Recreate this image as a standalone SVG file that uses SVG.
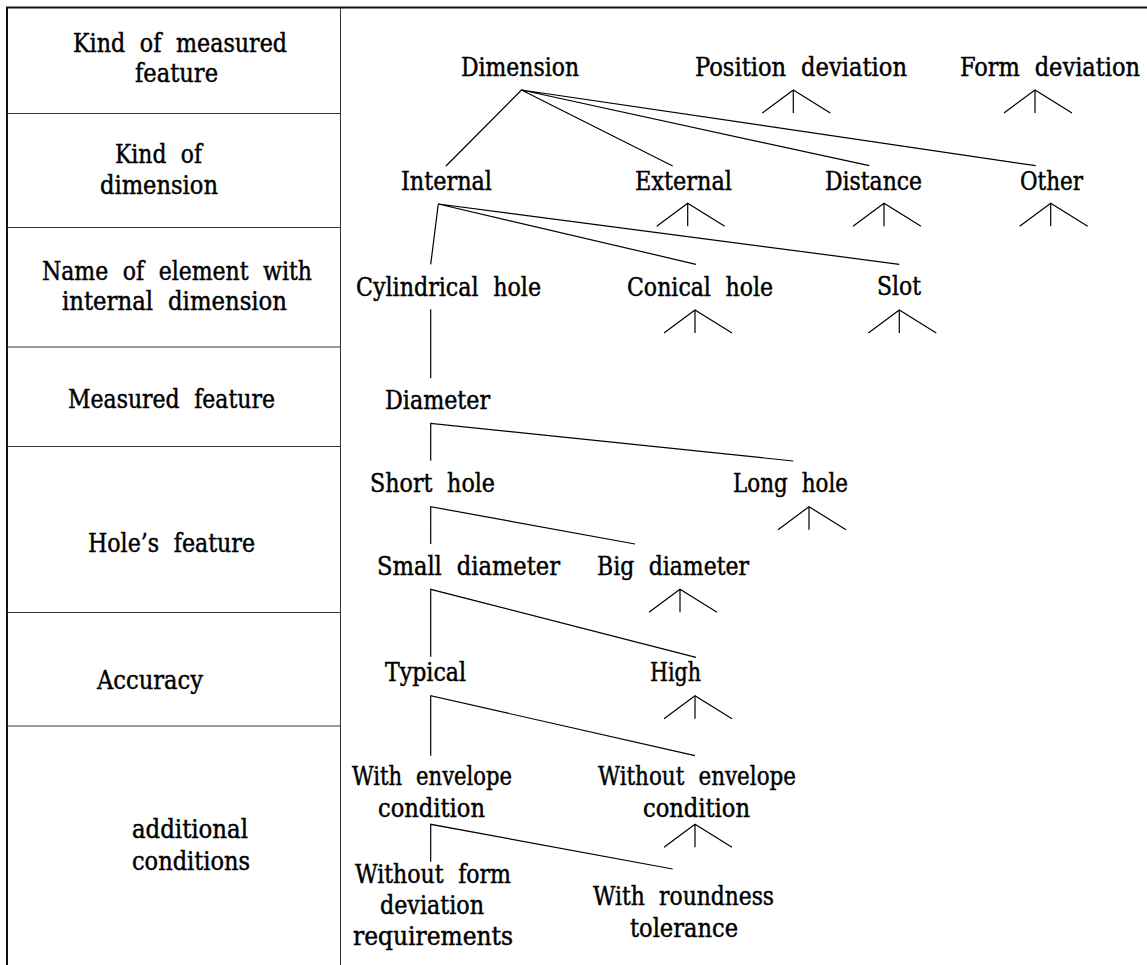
<svg xmlns="http://www.w3.org/2000/svg" xmlns:xlink="http://www.w3.org/1999/xlink" width="1147" height="965" viewBox="0 0 1147 965">
<style>
text{font-family:"DejaVu Serif Condensed","DejaVu Serif","Liberation Serif",serif;font-size:26px;fill:#000;stroke:#000;stroke-width:0.45;word-spacing:8px}
.grid{stroke:#333;stroke-width:1;fill:none}
.frame{stroke:#111;stroke-width:2;fill:none}
.con{stroke:#000;stroke-width:1.2;fill:none}
</style>
<defs>
<path id="fan" d="M-31,23 L0,0 L37,23 M0,0 V23" stroke="#000" stroke-width="1.2" fill="none"/>
</defs>
<rect width="1147" height="965" fill="#fff"/>
<g id="table">
<line class="frame" x1="6" y1="7.5" x2="1147" y2="7.5"/>
<line class="frame" x1="7" y1="7" x2="7" y2="965"/>
<line class="grid" x1="340.5" y1="8" x2="340.5" y2="965"/>
<line class="grid" x1="7" y1="113.5" x2="340" y2="113.5"/>
<line class="grid" x1="7" y1="227.5" x2="340" y2="227.5"/>
<line class="grid" x1="7" y1="347" x2="340" y2="347"/>
<line class="grid" x1="7" y1="446.5" x2="340" y2="446.5"/>
<line class="grid" x1="7" y1="612.5" x2="340" y2="612.5"/>
<line class="grid" x1="7" y1="726" x2="340" y2="726"/>
<text x="73" y="52" textLength="214" lengthAdjust="spacingAndGlyphs">Kind of measured</text>
<text x="135" y="82" textLength="83" lengthAdjust="spacingAndGlyphs">feature</text>
<text x="115" y="163" textLength="87" lengthAdjust="spacingAndGlyphs">Kind of</text>
<text x="100" y="194" textLength="118" lengthAdjust="spacingAndGlyphs">dimension</text>
<text x="42" y="280" textLength="270" lengthAdjust="spacingAndGlyphs">Name of element with</text>
<text x="62" y="310" textLength="225" lengthAdjust="spacingAndGlyphs">internal dimension</text>
<text x="68" y="408" textLength="207" lengthAdjust="spacingAndGlyphs">Measured feature</text>
<text x="88" y="552" textLength="167" lengthAdjust="spacingAndGlyphs">Hole’s feature</text>
<text x="97" y="689" textLength="106" lengthAdjust="spacingAndGlyphs">Accuracy</text>
<text x="132" y="838" textLength="116" lengthAdjust="spacingAndGlyphs">additional</text>
<text x="132" y="870" textLength="118" lengthAdjust="spacingAndGlyphs">conditions</text>
</g>
<g id="connectors">
<path class="con" d="M521.5,90 L446,166 M521.5,90 L672.7,166 M521.5,90 L869.3,165.7 M521.5,90 L1035.7,165.7"/>
<path class="con" d="M438.3,204 L430.7,264.3 M438.3,204 L696,264.3 M438.3,204 L899.3,264.3"/>
<path class="con" d="M430.7,309.3 V378.3"/>
<path class="con" d="M430.7,460.7 V423.3 L793.3,461"/>
<path class="con" d="M430.7,544 V506.7 L635,544"/>
<path class="con" d="M430.7,656.7 V589.3 L696,657.3"/>
<path class="con" d="M430.7,755.7 V695.7 L695,755.7"/>
<path class="con" d="M430.7,861.7 V824.3 L672.7,869"/>
</g>
<g id="n-dimension"><text x="461" y="76" textLength="118" lengthAdjust="spacingAndGlyphs">Dimension</text></g>
<g id="n-position"><text x="695" y="76" textLength="212" lengthAdjust="spacingAndGlyphs">Position deviation</text><use xlink:href="#fan" x="793.3" y="90"/></g>
<g id="n-form"><text x="960" y="76" textLength="180" lengthAdjust="spacingAndGlyphs">Form deviation</text><use xlink:href="#fan" x="1035" y="90"/></g>
<g id="n-internal"><text x="401" y="190" textLength="91" lengthAdjust="spacingAndGlyphs">Internal</text></g>
<g id="n-external"><text x="635" y="190" textLength="97" lengthAdjust="spacingAndGlyphs">External</text><use xlink:href="#fan" x="687.7" y="203.3"/></g>
<g id="n-distance"><text x="825" y="190" textLength="97" lengthAdjust="spacingAndGlyphs">Distance</text><use xlink:href="#fan" x="884" y="203.3"/></g>
<g id="n-other"><text x="1020" y="190" textLength="63" lengthAdjust="spacingAndGlyphs">Other</text><use xlink:href="#fan" x="1050.7" y="203.3"/></g>
<g id="n-cylindrical"><text x="356" y="296" textLength="185" lengthAdjust="spacingAndGlyphs">Cylindrical hole</text></g>
<g id="n-conical"><text x="627" y="296" textLength="146" lengthAdjust="spacingAndGlyphs">Conical hole</text><use xlink:href="#fan" x="695" y="310"/></g>
<g id="n-slot"><text x="877" y="295" textLength="44" lengthAdjust="spacingAndGlyphs">Slot</text><use xlink:href="#fan" x="899.3" y="310"/></g>
<g id="n-diameter"><text x="385" y="409" textLength="105" lengthAdjust="spacingAndGlyphs">Diameter</text></g>
<g id="n-short"><text x="370" y="492" textLength="125" lengthAdjust="spacingAndGlyphs">Short hole</text></g>
<g id="n-long"><text x="733" y="492" textLength="115" lengthAdjust="spacingAndGlyphs">Long hole</text><use xlink:href="#fan" x="809" y="506.7"/></g>
<g id="n-small"><text x="377" y="575" textLength="183" lengthAdjust="spacingAndGlyphs">Small diameter</text></g>
<g id="n-big"><text x="597" y="575" textLength="152" lengthAdjust="spacingAndGlyphs">Big diameter</text><use xlink:href="#fan" x="680" y="589.3"/></g>
<g id="n-typical"><text x="385" y="681" textLength="81" lengthAdjust="spacingAndGlyphs">Typical</text></g>
<g id="n-high"><text x="650" y="681" textLength="51" lengthAdjust="spacingAndGlyphs">High</text><use xlink:href="#fan" x="695" y="695.7"/></g>
<g id="n-with-env"><text x="352" y="785" textLength="160" lengthAdjust="spacingAndGlyphs">With envelope</text><text x="378" y="817" textLength="107" lengthAdjust="spacingAndGlyphs">condition</text></g>
<g id="n-without-env"><text x="598" y="785" textLength="198" lengthAdjust="spacingAndGlyphs">Without envelope</text><text x="643" y="817" textLength="107" lengthAdjust="spacingAndGlyphs">condition</text><use xlink:href="#fan" x="695" y="824.3"/></g>
<g id="n-without-form"><text x="355" y="883" textLength="156" lengthAdjust="spacingAndGlyphs">Without form</text><text x="380" y="914" textLength="104" lengthAdjust="spacingAndGlyphs">deviation</text><text x="353" y="945" textLength="160" lengthAdjust="spacingAndGlyphs">requirements</text></g>
<g id="n-roundness"><text x="593" y="905" textLength="181" lengthAdjust="spacingAndGlyphs">With roundness</text><text x="630" y="937" textLength="108" lengthAdjust="spacingAndGlyphs">tolerance</text></g>
</svg>
